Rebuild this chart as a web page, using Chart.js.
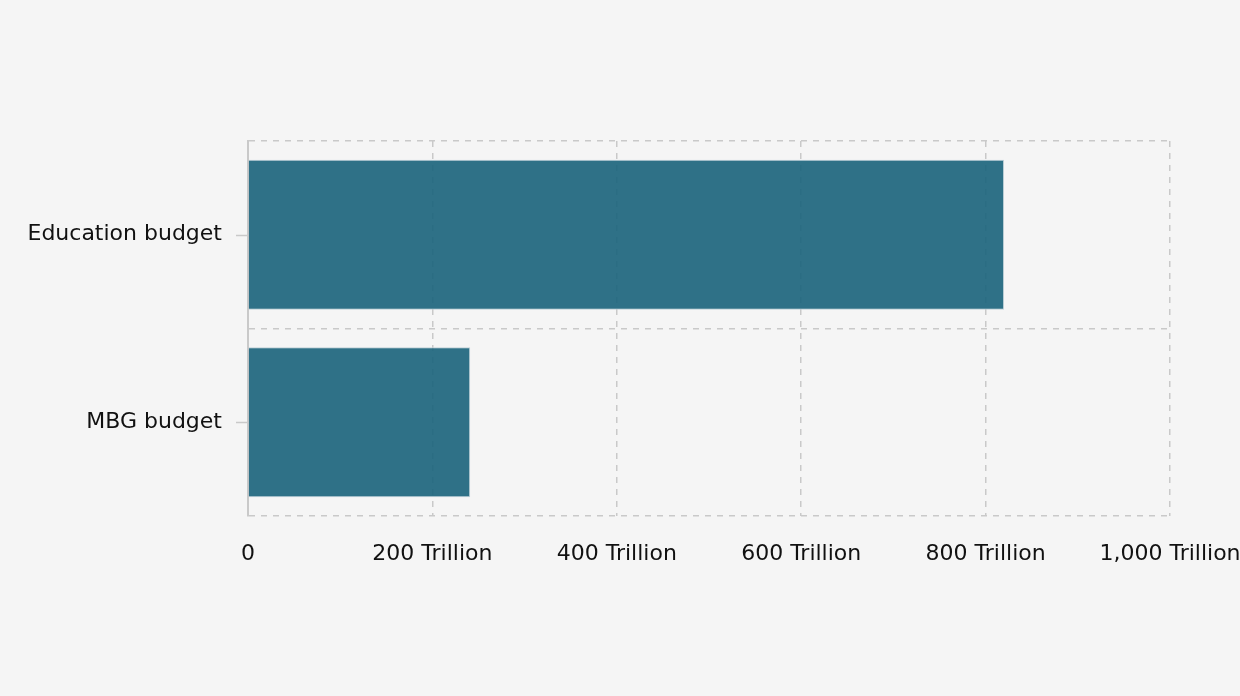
<!DOCTYPE html>
<html>
<head>
<meta charset="utf-8">
<script src="https://cdn.jsdelivr.net/npm/chart.js@4.4.1/dist/chart.umd.min.js"></script>
<style>
  html, body { margin: 0; padding: 0; background: #f5f5f5; }
  #wrap { width: 1240px; height: 696px; }
</style>
</head>
<body>
<div id="wrap"><canvas id="c" width="1240" height="696"></canvas></div>
<script>
const categories = ["Education budget", "MBG budget"];
const budgetValues = [820, 241]; // Trillion
const xTickValues = [0, 200, 400, 600, 800, 1000];

const gridColor = '#c9c9c9';

const yTickMarks = {
  id: 'yTickMarks',
  beforeDatasetsDraw(chart) {
    const y = chart.scales.y;
    const ctx = chart.ctx;
    ctx.save();
    ctx.strokeStyle = gridColor;
    ctx.lineWidth = 1.5;
    for (let i = 0; i < categories.length; i++) {
      const py = Math.round(y.getPixelForTick(i)) + 0.5;
      ctx.beginPath();
      ctx.moveTo(y.right - 12, py);
      ctx.lineTo(y.right - 1, py);
      ctx.stroke();
    }
    ctx.restore();
  }
};

new Chart(document.getElementById('c'), {
  type: 'bar',
  data: {
    labels: categories,
    datasets: [{
      data: budgetValues,
      backgroundColor: 'rgba(25,99,123,0.9)',
      borderColor: 'rgba(190,208,215,1)',
      borderWidth: 1,
      barPercentage: 0.8,
      categoryPercentage: 1.0
    }]
  },
  options: {
    indexAxis: 'y',
    responsive: false,
    animation: false,
    layout: { padding: { top: 141, bottom: 120, left: 0, right: 0 } },
    plugins: { legend: { display: false }, tooltip: { enabled: false } },
    scales: {
      x: {
        type: 'linear',
        min: 0,
        max: 1000,
        afterBuildTicks(scale) { scale.ticks = xTickValues.map(v => ({ value: v })); },
        afterFit(scale) { scale.height = 60; scale.paddingRight = 70; scale.paddingLeft = 0; },
        ticks: {
          padding: 25,
          color: '#111',
          font: { family: 'DejaVu Sans', size: 22 },
          maxRotation: 0,
          callback: (v) => v === 0 ? '0' : v.toLocaleString('en-US') + ' Trillion'
        },
        grid: { color: gridColor, drawTicks: false, lineWidth: 1.5 },
        border: { display: false, dash: [6, 6] }
      },
      y: {
        afterFit(scale) { scale.width = 248; },
        ticks: {
          padding: 26,
          color: '#111',
          font: { family: 'DejaVu Sans', size: 22 }
        },
        grid: { color: gridColor, offset: true, drawTicks: false, lineWidth: 1.5 },
        border: { display: true, color: gridColor, width: 2, dash: [6, 6] }
      }
    }
  },
  plugins: [yTickMarks]
});
</script>
</body>
</html>
